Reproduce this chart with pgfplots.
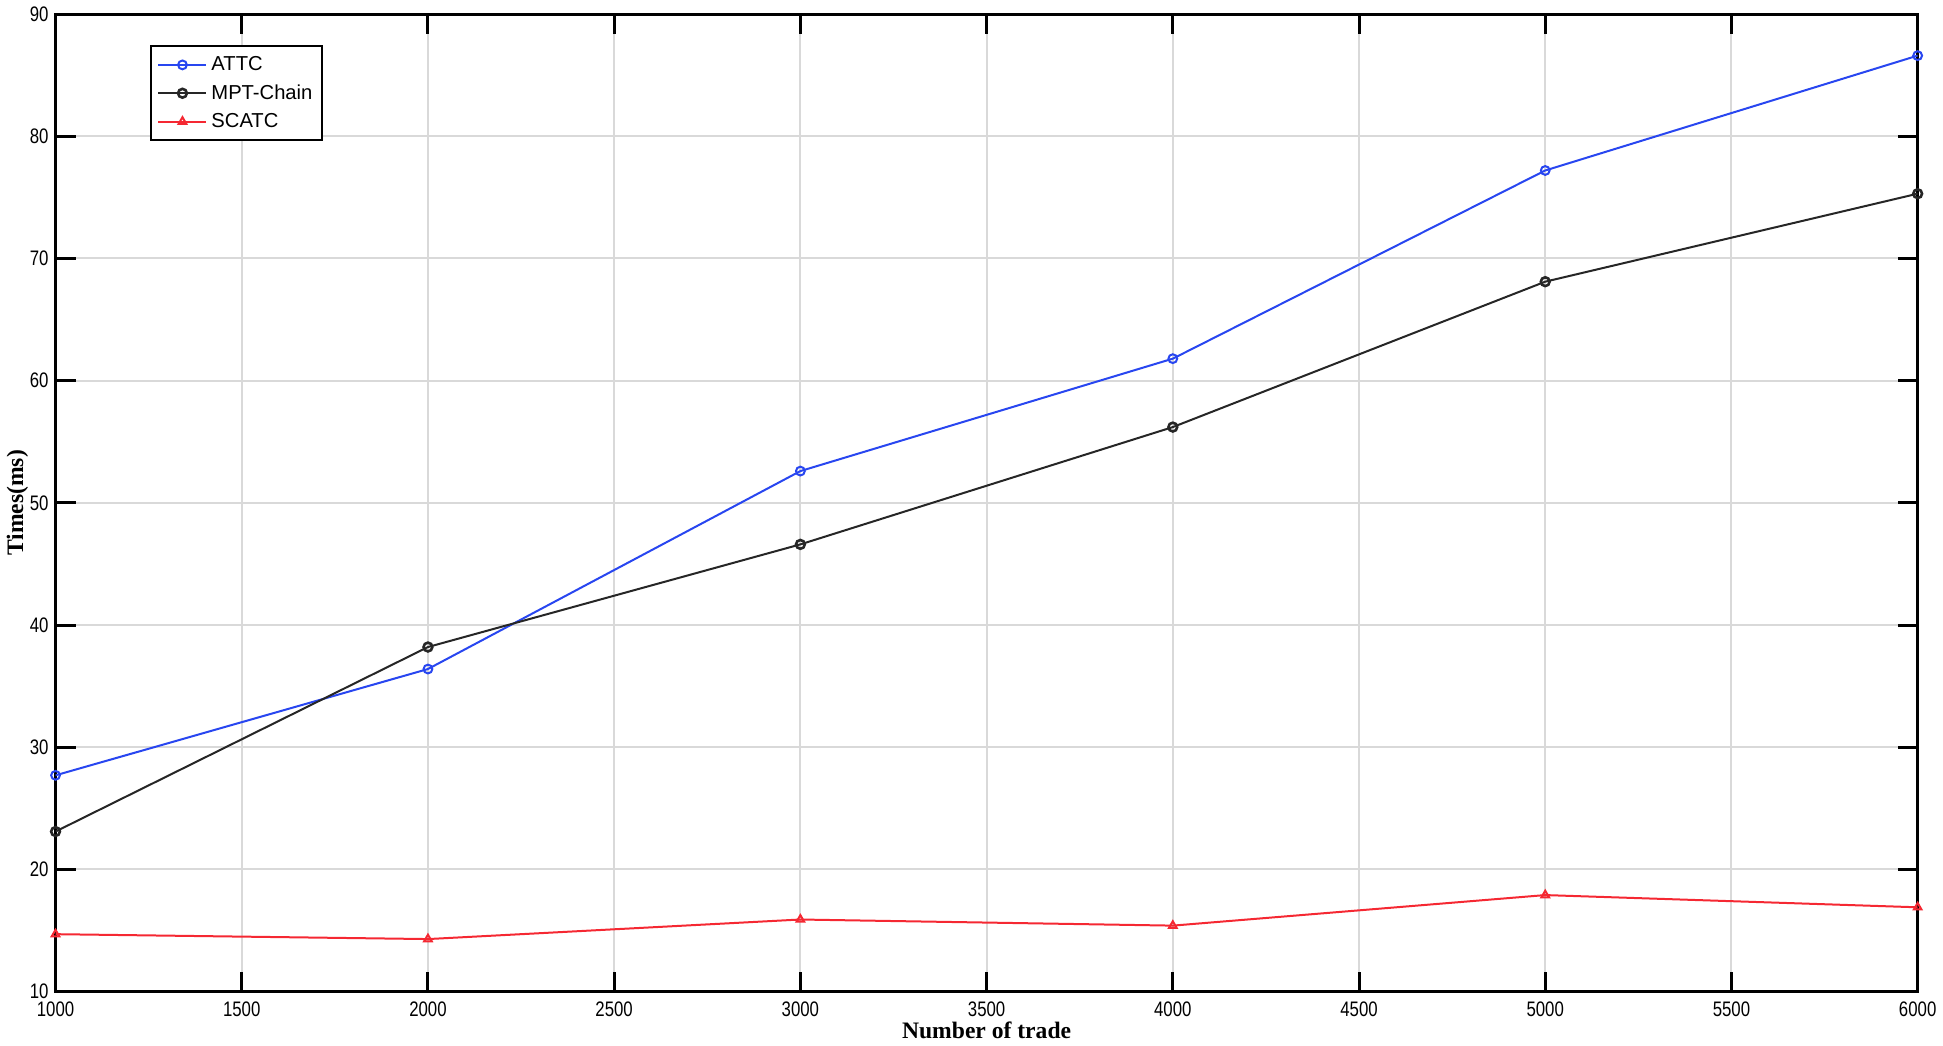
\documentclass[border=0pt]{standalone}
\usepackage{pgfplots}
\pgfplotsset{compat=1.18}
\usepackage{fontspec}
\setmainfont{Liberation Sans}
\newfontfamily\timesfont{Liberation Serif}

\begin{document}
\begin{tikzpicture}
  \begin{axis}[
      width=931.5pt, height=489pt,
      scale only axis,
      xmin=1000, xmax=6000,
      ymin=10, ymax=90,
      xtick={1000,1500,...,6000},
      ytick={10,20,...,90},
      tick align=inside,
      major tick length=10pt,
      tick style={black, line width=1.5pt},
      axis line style={line width=1.5pt},
      grid=major,
      grid style={gray!30, line width=1pt},
      /pgf/number format/assume math mode=true,
      /pgf/number format/set thousands separator={},
      xticklabel={\scalebox{0.8}[1]{\pgfmathprintnumber{\tick}}},
      yticklabel={\scalebox{0.8}[1]{\pgfmathprintnumber{\tick}}},
      ticklabel style={font=\fontsize{10.5}{12}\selectfont},
      xticklabel style={yshift=-1.5pt},
      xlabel={\timesfont\bfseries Number of trade},
      ylabel={\timesfont\bfseries Times(ms)},
      label style={font=\fontsize{11.8}{13}\selectfont},
      xlabel style={yshift=4pt},
      ylabel style={yshift=-6pt},
      legend style={at={(0.051,0.968)}, anchor=north west, draw=black, line width=1pt,
        font=\fontsize{10.1}{12}\selectfont, row sep=1.5pt, inner sep=3pt},
      legend cell align=left,
      legend image code/.code={\draw[#1] (0pt,0pt) -- (24pt,0pt); \draw[#1, mark repeat=1] plot coordinates {(12pt,0pt)};},
      mark size=2.2pt,
    ]
    \addplot[color={rgb,255:red,40;green,70;blue,240}, line width=1pt, mark=o, mark options={line width=1pt}]
      coordinates {(1000,27.7) (2000,36.4) (3000,52.6) (4000,61.8) (5000,77.2) (6000,86.6)};
    \addplot[color=black!85, line width=1pt, mark=o, mark options={line width=1.3pt}]
      coordinates {(1000,23.1) (2000,38.2) (3000,46.6) (4000,56.2) (5000,68.1) (6000,75.3)};
    \addplot[color={rgb,255:red,245;green,40;blue,50}, line width=1pt, mark=triangle, mark options={line width=1pt}]
      coordinates {(1000,14.7) (2000,14.3) (3000,15.9) (4000,15.4) (5000,17.9) (6000,16.9)};
    \legend{ATTC, MPT-Chain, SCATC}
  \end{axis}
\end{tikzpicture}
\end{document}
